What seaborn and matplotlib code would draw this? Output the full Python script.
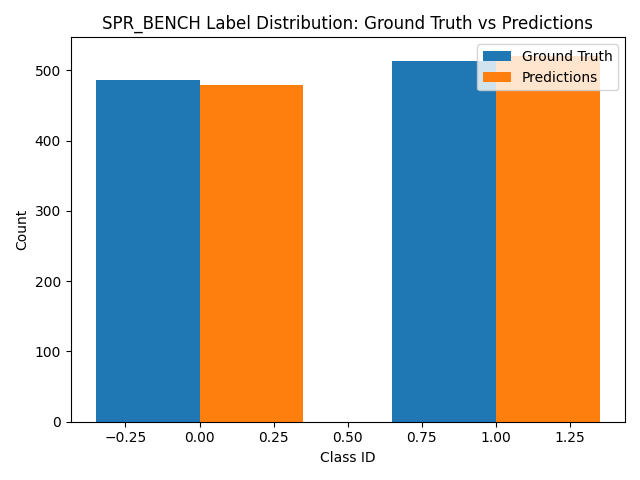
import numpy as np
import matplotlib
matplotlib.use("Agg")
import matplotlib.pyplot as plt
import seaborn as sns

class_ids = [0, 1]
gt_counts = [486, 513]
pred_counts = [479, 521]

colors = sns.color_palette("tab10", 2)
x = np.array(class_ids)
w = 0.35

fig, ax = plt.subplots(figsize=(6.4, 4.8), dpi=100)
ax.bar(x - w / 2, gt_counts, w, label="Ground Truth", color=colors[0])
ax.bar(x + w / 2, pred_counts, w, label="Predictions", color=colors[1])
ax.set_xlabel("Class ID")
ax.set_ylabel("Count")
ax.set_title("SPR_BENCH Label Distribution: Ground Truth vs Predictions")
ax.legend()
fig.tight_layout()
fig.savefig("out.png")
